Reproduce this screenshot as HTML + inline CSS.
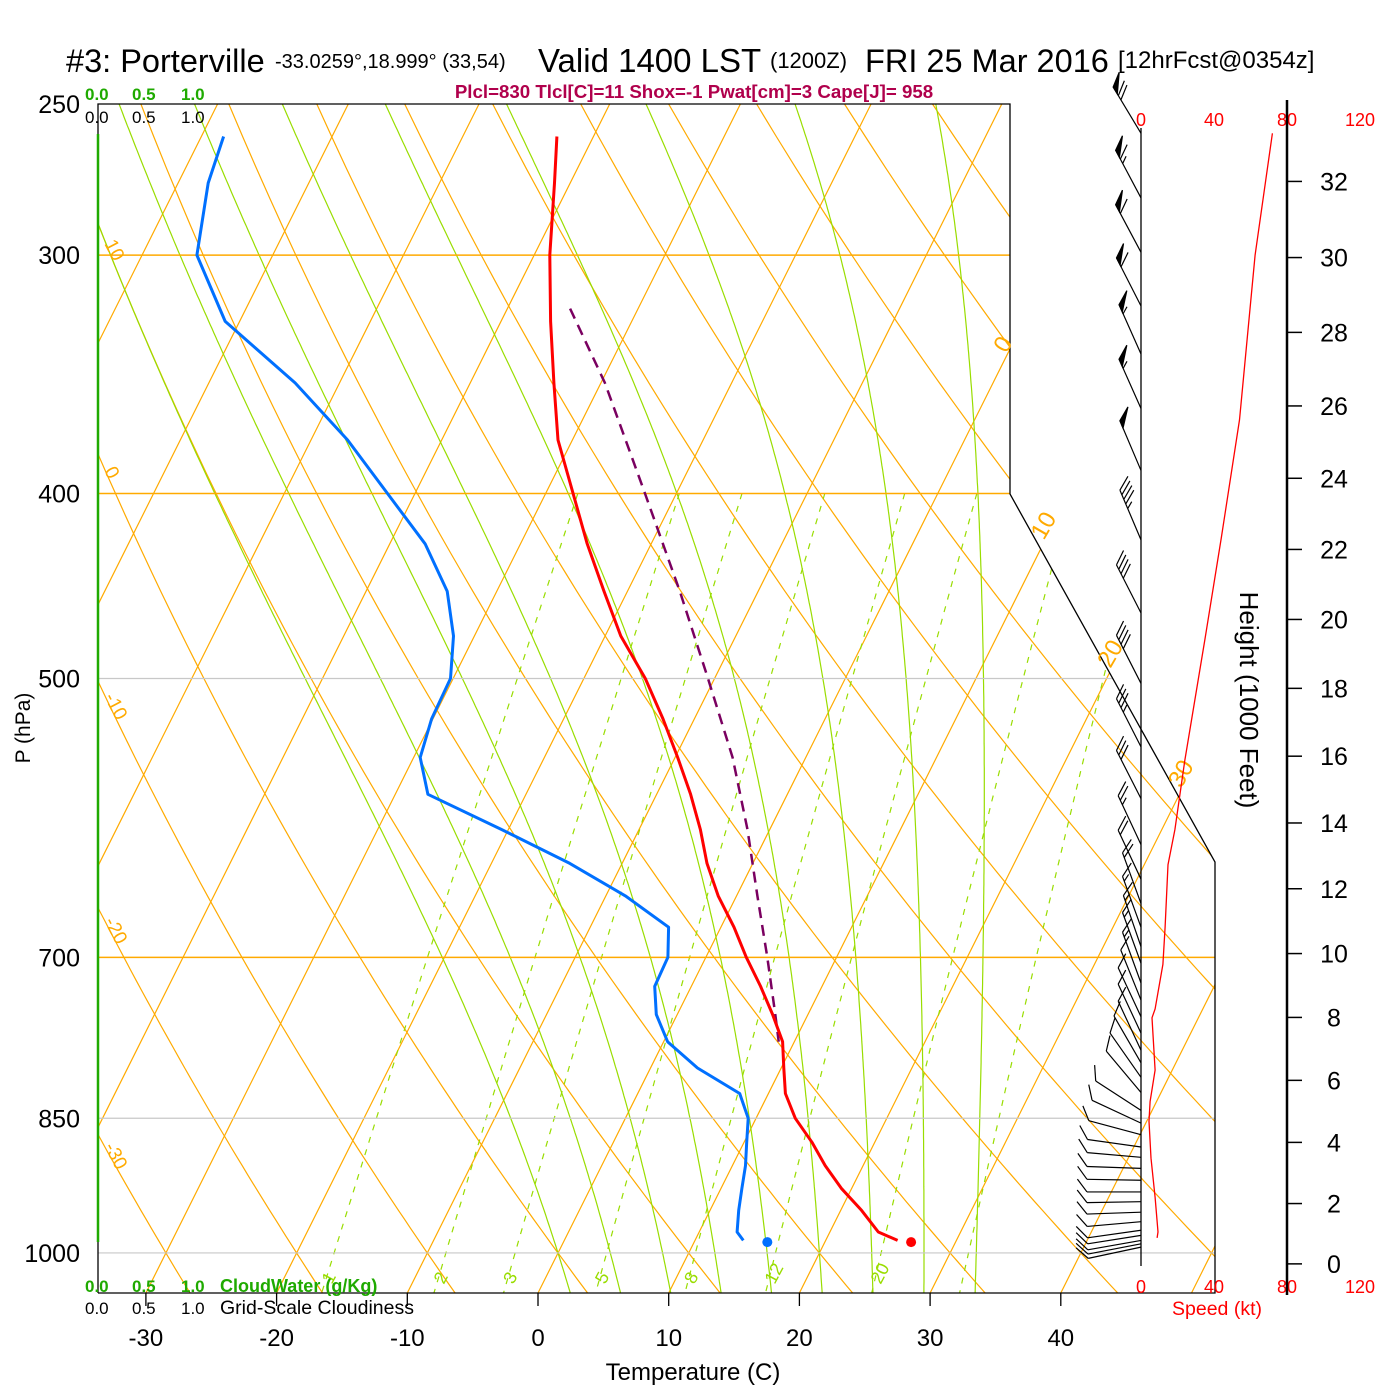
<!DOCTYPE html>
<html><head><meta charset="utf-8">
<style>
html,body{margin:0;padding:0;background:#fff;}
svg{display:block;font-family:"Liberation Sans",Arial,sans-serif;}
</style></head>
<body>
<svg id="chart" width="1400" height="1400" viewBox="0 0 1400 1400" xmlns="http://www.w3.org/2000/svg">
<defs>
<clipPath id="plotclip"><polygon points="98,104 1010,104 1010,494 1215,862 1215,1293 98,1293"/></clipPath>
</defs>
<g id="bg" clip-path="url(#plotclip)"></g>
<g id="fg"></g>

<g>
<text x="66" y="72" font-size="32.5">#3: Porterville</text>
<text x="275" y="68" font-size="20">-33.0259°,18.999° (33,54)</text>
<text x="538" y="72" font-size="33">Valid 1400 LST</text>
<text x="770" y="68" font-size="22">(1200Z)</text>
<text x="865" y="72" font-size="32.5">FRI 25 Mar 2016</text>
<text x="1118" y="68" font-size="24">[12hrFcst@0354z]</text>
</g>
<text x="694" y="98" font-size="18.7" font-weight="bold" fill="#b0004c" text-anchor="middle">Plcl=830 Tlcl[C]=11 Shox=-1 Pwat[cm]=3 Cape[J]= 958</text>

<g font-size="17">
<text x="85" y="100" fill="#1faa00" font-weight="bold">0.0<tspan x="132">0.5</tspan><tspan x="181">1.0</tspan></text>
<text x="85" y="123" fill="#000">0.0<tspan x="132">0.5</tspan><tspan x="181">1.0</tspan></text>
</g>
<g font-size="17">
<text x="85" y="1292" fill="#1faa00" font-weight="bold">0.0<tspan x="132">0.5</tspan><tspan x="181">1.0</tspan><tspan x="220" font-size="18">CloudWater (g/Kg)</tspan></text>
<text x="85" y="1314" fill="#000">0.0<tspan x="132">0.5</tspan><tspan x="181">1.0</tspan><tspan x="220" font-size="19.5">Grid-Scale Cloudiness</tspan></text>
</g>

<text x="693" y="1380" font-size="24" text-anchor="middle">Temperature (C)</text>
<text transform="translate(30,728) rotate(-90)" font-size="21" text-anchor="middle">P (hPa)</text>
<text transform="translate(1240,700) rotate(90)" font-size="26" text-anchor="middle">Height (1000 Feet)</text>
<text x="1217" y="1315" font-size="19.5" fill="#ff0000" text-anchor="middle">Speed (kt)</text>
</svg>
<script>
var tempTicks = [-30,-20,-10,0,10,20,30,40];
var pressTicks = [250,300,400,500,700,850,1000];
var orangePressLines = [300,400,700];
var grayPressLines = [500,850,1000];
var mixRatios = [1,2,3,5,8,12,20,30];
var mixLabels = [1,2,3,5,8,12,20];
var moistThetaW = [0,4,8,12,16,20,24,28,32];
var heightTicks = [0,2,4,6,8,10,12,14,16,18,20,22,24,26,28,30,32];
var speedTicks = [0,40,80,120];

var tempP  = [260,275,300,325,350,375,400,425,450,475,500,525,550,575,600,625,650,675,700,725,750,775,800,825,850,875,900,925,950,975,985];
var tempT  = [-42.8,-41.2,-38.8,-36.2,-33.6,-31.1,-27.9,-24.9,-21.8,-18.8,-15.3,-12.4,-9.8,-7.4,-5.3,-3.5,-1.4,1.0,3.1,5.3,7.3,9.1,10.2,11.3,13.0,15.2,17.1,19.2,21.6,23.7,25.5];
var dewT   = [-68.3,-67.7,-65.8,-61.1,-53.4,-47.2,-42.1,-37.3,-33.8,-31.6,-30.2,-30.1,-29.5,-27.5,-20.5,-14.0,-8.5,-4.0,-2.9,-2.8,-1.6,0.3,3.6,7.8,9.4,10.2,11.0,11.6,12.2,12.9,13.7];
var parcelP = [320,350,400,450,500,550,600,650,700,750,775];
var parcelT = [-35.2,-29.7,-22.4,-16.0,-10.5,-5.6,-1.7,1.6,4.7,7.5,8.8];
var sfcP = 987, sfcT = 26.6, sfcTd = 15.6;

var speedP = [259,300,366,422,477,552,600,626,675,706,745,753,802,833,853,892,935,975,982];
var speedKt = [72,62.5,54,44,35,24,18.6,14.8,13.2,12,7.7,6,7.7,5,4.4,5.5,7.7,9.3,8.8];

var barbP   = [259,280,299,319,338,361,389,423,462,503,543,578,611,637,656,675,691,705,722,737,752,767,783,795,809,824,842,855,867,880,891,903,916,929,940,952,963,973,979,985,989,993];
var barbDir = [329,332,332,333,336,336,337,337,333,333,333,333,335,335,340,340,341,340,340,338,335,335,335,330,325,320,303,295,285,278,275,272,271,270,269,268,265,262,261,260,259,258];
var barbSpd = [72,67,62,60,57,55,52,45,42,38,35,28,25,20,18,16,15,14,13,12,10,10,8,8,8,8,10,10,10,10,10,10,10,10,10,10,10,10,10,10,10,10];

function yP(p){ return 104 + 828.8*Math.log(p/250); }
function xT(T,y){ return 538 + 13.07*T + 0.5*(1293 - y); }
function xSpd(s){ return 1141 + 1.825*s; }
function pHeight(kft){ return 1013.25*Math.pow(1 - 2.2558e-5*kft*304.8, 5.2559); }

var NS = 'http://www.w3.org/2000/svg';
var bg = document.getElementById('bg');
var fg = document.getElementById('fg');
function mk(tag, attrs, parent){
  var e = document.createElementNS(NS, tag);
  for (var k in attrs) e.setAttribute(k, attrs[k]);
  parent.appendChild(e);
  return e;
}
function ptsStr(a){ return a.map(function(q){return q[0].toFixed(1)+','+q[1].toFixed(1);}).join(' '); }

for (var T=-140; T<=50; T+=10){
  var l = mk('line',{x1:xT(T,104),y1:104,x2:xT(T,1293),y2:1293,stroke:'#ffaa00','stroke-width':1.2}, bg);
  
  
}
for (var th=-40; th<=170; th+=10){
  var a=[];
  for (var p=240; p<=1060; p+=10){
    var y=yP(p); var Tc=(th+273.15)*Math.pow(p/1000,0.2857)-273.15;
    a.push([xT(Tc,y),y]);
  }
  var pl = mk('polyline',{points:ptsStr(a),fill:'none',stroke:'#ffaa00','stroke-width':1.2}, bg);
  
  
}
function es(Tc){ return 6.112*Math.exp(17.67*Tc/(Tc+243.5)); }
function dTdlnp(TK,p){
  var e=es(TK-273.15); var rs=0.622*e/(p-e);
  return (287*TK + 2.5e6*rs)/(1004 + 2.5e6*2.5e6*rs*0.622/(287*TK*TK));
}
function moist(thw){
  var res=[]; var h=0.005;
  [-1,1].forEach(function(dir){
    var TK=thw+273.15, lp=Math.log(1000);
    while (true){
      var p=Math.exp(lp);
      if (dir<0 && p<240) break;
      if (dir>0 && p>1060) break;
      res.push([p,TK]);
      var k1=dTdlnp(TK,p), k2=dTdlnp(TK+0.5*h*dir*k1,Math.exp(lp+0.5*h*dir));
      TK += h*dir*k2; lp += h*dir;
    }
  });
  res.sort(function(a,b){return a[0]-b[0];});
  return res;
}
moistThetaW.forEach(function(tw){
  var arr=moist(tw).map(function(q){var y=yP(q[0]);return [xT(q[1]-273.15,y),y];});
  var pl = mk('polyline',{points:ptsStr(arr),fill:'none',stroke:'#99dd00','stroke-width':1.2}, bg);
  
  
});
function tdFromW(w,p){ var e=w*p/(622+w); var L=Math.log(e/6.112); return 243.5*L/(17.67-L); }
mixRatios.forEach(function(w){
  var a=[];
  for (var p=400; p<=1050; p+=10){ var y=yP(p); a.push([xT(tdFromW(w,p),y),y]); }
  var pl = mk('polyline',{points:ptsStr(a),fill:'none',stroke:'#99dd00','stroke-width':1.2,'stroke-dasharray':'6,7'}, bg);
  
  
});
orangePressLines.forEach(function(p){
  var y=yP(p);
  var l = mk('line',{x1:98,y1:y,x2:1215,y2:y,stroke:'#ffaa00','stroke-width':1.5}, bg);
  
  
});
grayPressLines.forEach(function(p){
  var y=yP(p);
  var l = mk('line',{x1:98,y1:y,x2:1215,y2:y,stroke:'#c8c8c8','stroke-width':1.2}, bg);
  
  
});

var fr = mk('polyline',{points:'98,1293 1215,1293 1215,862 1010,494 1010,104 98,104 98,134',fill:'none',stroke:'#000','stroke-width':1.3}, fg);


var gl = mk('line',{x1:98,y1:134,x2:98,y2:1242,stroke:'#1faa00','stroke-width':2.5}, fg);


var bl = mk('line',{x1:98,y1:1242,x2:98,y2:1293,stroke:'#000','stroke-width':1.3}, fg);



var thetaLabels=[10,0,-10,-20,-30];
thetaLabels.forEach(function(th){
  var best=null;
  for (var p=250;p<=1050;p+=1){var y=yP(p);var Tc=(th+273.15)*Math.pow(p/1000,0.2857)-273.15;var x=xT(Tc,y);if(best===null||Math.abs(x-108)<Math.abs(best[0]-108))best=[x,y];}
  var t = mk('text',{transform:'translate(104,'+(best[1]-6).toFixed(1)+') rotate(62)','font-size':19,fill:'#ffaa00'}, fg);
  t.textContent=String(th);
  
  
});
var isoLabels=[0,10,20,30];
var isoLabelY=[340,527,655,775];
isoLabels.forEach(function(T,i){
  var y=isoLabelY[i]; var x=xT(T,y);
  var t = mk('text',{transform:'translate('+(x-8).toFixed(1)+','+(y+14)+') rotate(-60)','font-size':24,fill:'#ffaa00'}, fg);
  t.textContent=String(T);
  
  
});
mixLabels.forEach(function(w){
  var y=1275; var x=xT(tdFromW(w,1030),y);
  var t = mk('text',{transform:'translate('+(x+4).toFixed(1)+','+(y+10)+') rotate(-62)','font-size':18,fill:'#99dd00'}, fg);
  t.textContent=String(w);
  
  
});

tempTicks.forEach(function(T){
  var x=538+13.07*T;
  var tk = mk('line',{x1:x,y1:1293,x2:x,y2:1306,stroke:'#000','stroke-width':1.3}, fg);
  
  
  var t = mk('text',{x:x,y:1346,'font-size':24,'text-anchor':'middle'}, fg);
  t.textContent=String(T);
  
  
});
pressTicks.forEach(function(p){
  var t = mk('text',{x:80,y:yP(p)+9,'font-size':25,'text-anchor':'end'}, fg);
  t.textContent=String(p);
  
  
});

function line(P,T,attrs,name){
  var a=P.map(function(p,i){var y=yP(p);return [xT(T[i],y),y];});
  var at={points:ptsStr(a),fill:'none','stroke-linejoin':'round'};
  for (var k in attrs) at[k]=attrs[k];
  var pl = mk('polyline',at, fg);
  
  
}
line(parcelP,parcelT,{stroke:'#7a0060','stroke-width':2.5,'stroke-dasharray':'11,7'},'parcel-path');
line(tempP,tempT,{stroke:'#ff0000','stroke-width':3},'temperature-line');
line(tempP,dewT,{stroke:'#0070ff','stroke-width':3},'dewpoint-line');
var sy=yP(sfcP);
var c1 = mk('circle',{cx:xT(sfcT,sy),cy:sy,r:5,fill:'#ff0000'}, fg);


var c2 = mk('circle',{cx:xT(sfcTd,sy),cy:sy,r:5,fill:'#0070ff'}, fg);



var wa = mk('line',{x1:1141,y1:128,x2:1141,y2:1266,stroke:'#000','stroke-width':1.3}, fg);


[126,1293].forEach(function(yy){
  speedTicks.forEach(function(s){
    var t = mk('text',{x:xSpd(s),y:yy,'font-size':18,fill:'#ff0000','text-anchor':'middle'}, fg);
    t.textContent=String(s);
    
    
  });
});
var sa=speedP.map(function(p,i){return [xSpd(speedKt[i]),yP(p)];});
var sl = mk('polyline',{points:ptsStr(sa),fill:'none',stroke:'#ff0000','stroke-width':1.3}, fg);



barbP.forEach(function(p,i){
  var by=yP(p), bx=1141, L=54;
  var r=barbDir[i]*Math.PI/180;
  var dx=Math.sin(r), dy=-Math.cos(r);
  var g = mk('g',{stroke:'#000','stroke-width':1.2,fill:'#000'}, fg);
  
  
  mk('line',{x1:bx,y1:by,x2:bx+dx*L,y2:by+dy*L}, g);
  var px=-dy, py=dx;
  var fx=16*(0.8*px+0.6*dx), fy=16*(0.8*py+0.6*dy);
  var s=Math.round(barbSpd[i]/5)*5, pos=L;
  while (s>=50){
    var x0=bx+dx*pos, y0=by+dy*pos, x1=bx+dx*(pos-8), y1=by+dy*(pos-8);
    mk('polygon',{points:x0+','+y0+' '+(x0+fx)+','+(y0+fy)+' '+x1+','+y1}, g);
    pos-=10; s-=50;
  }
  while (s>=10){
    var x0b=bx+dx*pos, y0b=by+dy*pos;
    mk('line',{x1:x0b,y1:y0b,x2:x0b+fx,y2:y0b+fy}, g);
    pos-=5; s-=10;
  }
  if (s>=5){
    var x0c=bx+dx*pos, y0c=by+dy*pos;
    mk('line',{x1:x0c,y1:y0c,x2:x0c+fx*0.5,y2:y0c+fy*0.5}, g);
  }
});

var ha = mk('line',{x1:1287,y1:100,x2:1287,y2:1295,stroke:'#000','stroke-width':2.5}, fg);


heightTicks.forEach(function(h){
  var y=yP(pHeight(h));
  var tk = mk('line',{x1:1287,y1:y,x2:1302,y2:y,stroke:'#000','stroke-width':1.5}, fg);
  
  
  var t = mk('text',{x:1334,y:y+9,'font-size':25,'text-anchor':'middle'}, fg);
  t.textContent=String(h);
  
  
});
</script>
</body></html>
